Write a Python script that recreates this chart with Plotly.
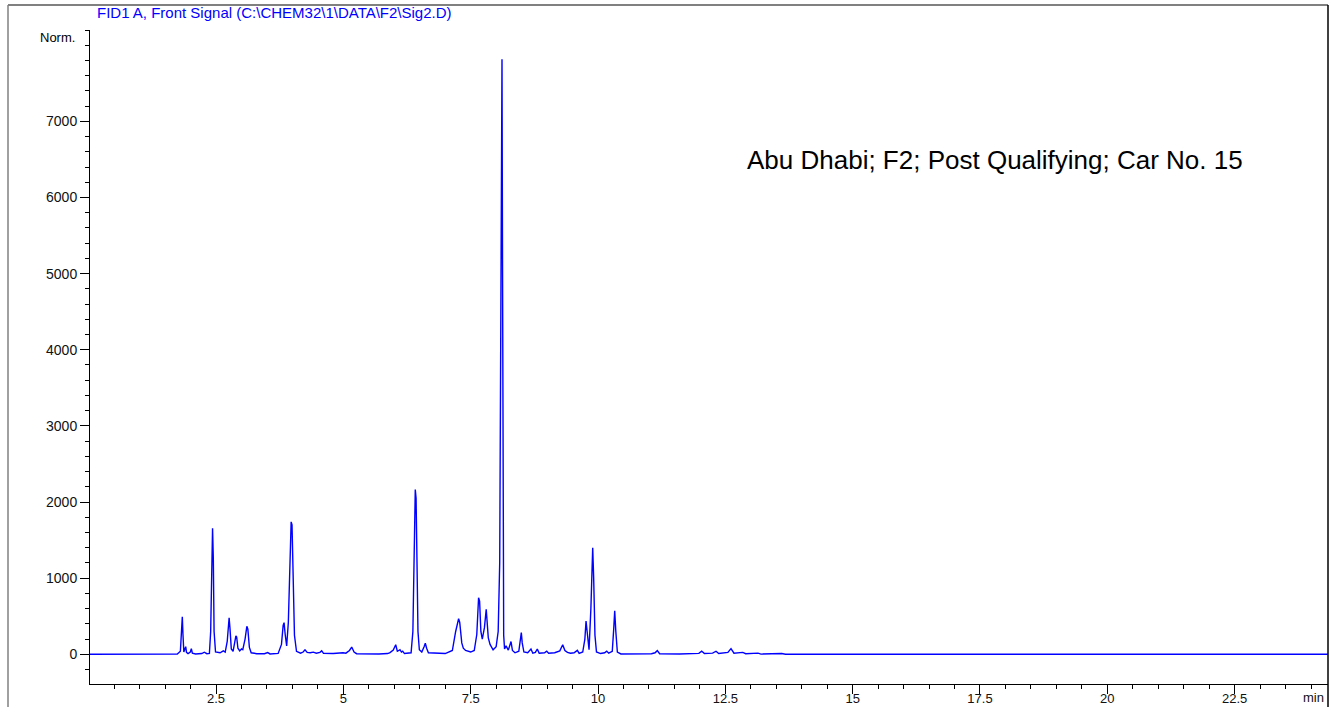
import plotly.graph_objects as go

# ---- data (retention time in min, signal in Norm.) ----
retention_time_min = [
    0.0, 1.60, 1.74, 1.80, 1.825, 1.838, 1.851, 1.868, 1.888, 1.905, 1.92, 1.95, 1.995, 2.015, 2.035,
    2.10, 2.22, 2.27, 2.32, 2.37, 2.395, 2.415, 2.432, 2.447, 2.462, 2.49, 2.58, 2.643, 2.68, 2.72,
    2.742, 2.757, 2.775, 2.80, 2.835, 2.868, 2.89, 2.905, 2.93, 2.965, 3.00, 3.025, 3.07, 3.105, 3.125,
    3.155, 3.19, 3.30, 3.45, 3.515, 3.56, 3.72, 3.785, 3.818, 3.836, 3.858, 3.887, 3.92, 3.952, 3.975,
    3.992, 4.01, 4.04, 4.08, 4.16, 4.21, 4.247, 4.29, 4.35, 4.41, 4.47, 4.54, 4.575, 4.61, 4.80,
    4.993, 5.05, 5.12, 5.164, 5.21, 5.26, 5.70, 5.87, 5.916, 5.98, 6.028, 6.06, 6.09, 6.112, 6.14,
    6.165, 6.20, 6.33, 6.365, 6.39, 6.412, 6.428, 6.445, 6.465, 6.492, 6.54, 6.585, 6.609, 6.635, 6.67,
    7.00, 7.14, 7.205, 7.263, 7.285, 7.325, 7.355, 7.40, 7.50, 7.57, 7.62, 7.655, 7.675, 7.70, 7.728,
    7.77, 7.805, 7.825, 7.846, 7.88, 7.94, 8.00, 8.04, 8.07, 8.09, 8.105, 8.115, 8.125, 8.135, 8.148,
    8.165, 8.194, 8.239, 8.292, 8.32, 8.37, 8.445, 8.475, 8.494, 8.512, 8.545, 8.62, 8.684, 8.72, 8.77,
    8.808, 8.845, 8.95, 8.993, 9.03, 9.15, 9.25, 9.307, 9.35, 9.40, 9.46, 9.53, 9.594, 9.63, 9.70,
    9.742, 9.765, 9.79, 9.824, 9.86, 9.884, 9.896, 9.915, 9.94, 9.97, 10.05, 10.13, 10.171, 10.21, 10.28,
    10.31, 10.328, 10.35, 10.38, 10.45, 10.6, 10.8, 11.05, 11.12, 11.164, 11.21, 11.6, 11.98, 12.036, 12.09,
    12.25, 12.317, 12.37, 12.55, 12.611, 12.67, 12.842, 12.9, 13.142, 13.2, 13.607, 13.68, 24.4,
]
signal_norm = [
    0, 0, 5, 40, 300, 492, 260, 30, 70, 100, 25, 10, 30, 75, 15,
    5, 10, 28, 8, 12, 300, 1250, 1655, 1250, 300, 30, 20, 45, 30, 170,
    420, 480, 330, 70, 40, 190, 242, 228, 80, 45, 70, 60, 200, 368, 330,
    90, 20, 8, 8, 22, 5, 12, 130, 380, 416, 260, 110, 420, 1400, 1740,
    1700, 1050, 250, 40, 15, 30, 60, 25, 20, 28, 15, 25, 45, 12, 10,
    20, 15, 50, 95, 30, 8, 5, 10, 22, 55, 125, 40, 50, 60, 30,
    42, 10, 20, 300, 1250, 2163, 2050, 1100, 300, 60, 30, 100, 145, 80, 20,
    10, 50, 300, 467, 420, 150, 80, 50, 30, 50, 260, 742, 700, 300, 200,
    350, 590, 450, 215, 130, 60, 100, 300, 1200, 4500, 7700, 7815, 5200, 1600, 250,
    70, 110, 55, 168, 50, 20, 40, 180, 285, 150, 30, 20, 70, 15, 25,
    70, 15, 20, 42, 15, 20, 45, 125, 50, 25, 15, 20, 52, 12, 30,
    200, 437, 250, 60, 600, 1300, 1400, 1000, 250, 30, 10, 20, 42, 15, 40,
    350, 572, 300, 30, 5, 8, 5, 8, 20, 48, 8, 5, 12, 40, 10,
    15, 40, 10, 25, 75, 15, 25, 8, 15, 3, 10, 0, 0,
]

x_tick_vals = [2.5, 5, 7.5, 10, 12.5, 15, 17.5, 20, 22.5]
x_tick_labels = ["2.5", "5", "7.5", "10", "12.5", "15", "17.5", "20", "22.5"]
y_tick_vals = [0, 1000, 2000, 3000, 4000, 5000, 6000, 7000]
y_tick_labels = ["0", "1000", "2000", "3000", "4000", "5000", "6000", "7000"]

title_text = "FID1 A, Front Signal (C:\\CHEM32\\1\\DATA\\F2\\Sig2.D)"
note_text = "Abu Dhabi; F2; Post Qualifying; Car No. 15"

FONT = "Liberation Sans, Arial, sans-serif"

fig = go.Figure()
fig.add_trace(go.Scatter(
    x=retention_time_min, y=signal_norm, mode="lines",
    line=dict(color="#0000ff", width=1.4), hoverinfo="skip",
))

W, H = 1330, 707
L, R, T, B = 90, 2, 30, 23
pw, ph = W - L - R, H - T - B


def px(xp):
    return (xp - L) / pw


def py(yp):
    return (H - B - yp) / ph


fig.update_layout(
    width=W, height=H,
    margin=dict(l=L, r=R, t=T, b=B, pad=0, autoexpand=False),
    paper_bgcolor="white", plot_bgcolor="white",
    showlegend=False,
    font=dict(family=FONT, size=14, color="black"),
    xaxis=dict(
        range=[0.0255, 24.333], showgrid=False, zeroline=False, automargin=False,
        showline=True, linecolor="black", linewidth=1,
        tickmode="array", tickvals=x_tick_vals, ticktext=x_tick_labels,
        ticks="outside", ticklen=9, tickwidth=1, tickcolor="black",
        ticklabelstandoff=-7,
        tickfont=dict(family=FONT, size=13, color="#111"),
        minor=dict(tick0=0, dtick=0.5, ticks="outside", ticklen=4, tickwidth=1,
                   tickcolor="black", showgrid=False),
    ),
    yaxis=dict(
        range=[-390, 8200], showgrid=False, zeroline=False, automargin=False,
        showline=True, linecolor="black", linewidth=1,
        tickmode="array", tickvals=y_tick_vals, ticktext=y_tick_labels,
        ticks="outside", ticklen=9, tickwidth=1, tickcolor="black",
        tickfont=dict(family=FONT, size=14, color="#111"),
        minor=dict(tick0=0, dtick=200, ticks="outside", ticklen=4, tickwidth=1,
                   tickcolor="black", showgrid=False),
    ),
)

# outer frame
fig.add_shape(type="line", xref="paper", yref="paper", x0=px(8), x1=px(1328), y0=py(5), y1=py(5),
              line=dict(color="#808080", width=2))
fig.add_shape(type="line", xref="paper", yref="paper", x0=px(8), x1=px(8), y0=py(5), y1=py(708),
              line=dict(color="#808080", width=1.5))
fig.add_shape(type="line", xref="paper", yref="paper", x0=px(1328), x1=px(1328), y0=py(5), y1=py(708),
              line=dict(color="black", width=1.5))

fig.add_annotation(text=title_text, xref="paper", yref="paper", x=px(95), y=py(13),
                   xanchor="left", yanchor="middle", showarrow=False,
                   font=dict(family=FONT, size=15, color="#0000ff"))
fig.add_annotation(text="Norm.", xref="paper", yref="paper", x=px(77), y=py(37),
                   xanchor="right", yanchor="middle", showarrow=False,
                   font=dict(family=FONT, size=13, color="black"))
fig.add_annotation(text=note_text, xref="paper", yref="paper", x=px(745), y=py(160),
                   xanchor="left", yanchor="middle", showarrow=False,
                   font=dict(family=FONT, size=26, color="black"))
fig.add_annotation(text="min", xref="paper", yref="paper", x=px(1326), y=py(697),
                   xanchor="right", yanchor="middle", showarrow=False,
                   font=dict(family=FONT, size=13, color="#111"))

fig.write_html("out.html", config={"displayModeBar": False},
               post_script="document.body.style.margin='0';document.body.style.overflow='hidden';")
